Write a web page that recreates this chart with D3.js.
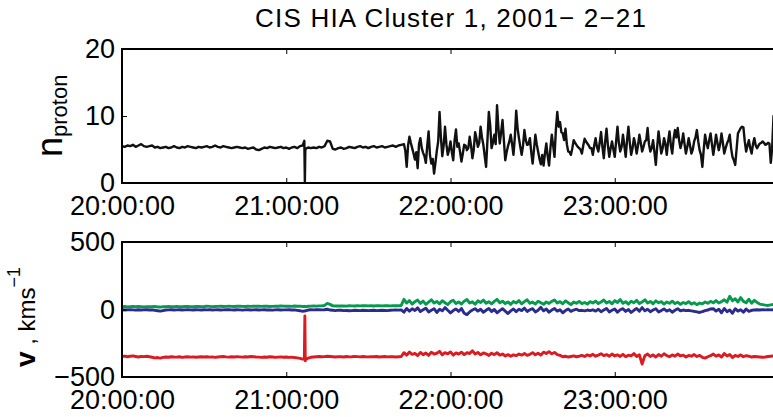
<!DOCTYPE html>
<html><head><meta charset="utf-8">
<script src="https://cdn.jsdelivr.net/npm/d3@7"></script>
<style>body{margin:0;background:#fff} svg{display:block}</style>
</head><body><svg id="c" width="773" height="417"></svg>
<script>
const titleText = "CIS HIA Cluster 1, 2001\u2212 2\u221221";
const xTickMinutes = [0, 60, 120, 180];
const xTickLabels = ["20:00:00", "21:00:00", "22:00:00", "23:00:00"];
const nTicks = [0, 10, 20];
const vTicks = [-500, 0, 500];

// proton density, one value per minute from 20:00
const density = [
5.5,5.4,5.6,5.5,5.7,5.4,5.6,5.8,5.5,5.4,
5.5,5.6,5.3,5.4,5.2,5.3,5.4,5.2,5.3,5.5,
5.3,5.2,5.4,5.3,5.5,5.4,5.3,5.2,5.4,5.3,
5.4,5.5,5.3,5.4,5.6,5.4,5.3,5.5,5.4,5.3,
5.2,5.3,5.4,5.3,5.2,5.3,5.1,5.2,5.3,5.0,
4.9,5.1,5.3,5.2,5.4,5.3,5.2,5.3,5.4,5.2,
5.3,5.1,5.3,5.4,5.2,5.5,5.6,5.1,5.3,5.2,
5.3,5.2,5.4,5.3,5.5,6.3,6.2,5.1,5.0,5.2,
5.3,5.1,5.2,5.4,5.3,5.2,5.4,5.5,5.3,5.4,
5.2,5.4,5.5,5.3,5.4,5.5,5.3,5.4,5.5,5.6,
5.4,5.6,5.7,5.8,2.4,6.9,5.2,3.5,2.2,6.7,
4.5,3.0,7.7,2.9,1.4,4.8,10.6,4.0,8.4,4.2,
6.2,3.4,8.0,5.9,3.2,5.7,4.9,6.9,3.7,7.6,
5.4,8.4,5.7,2.4,10.6,5.2,7.2,11.6,5.9,9.4,
3.4,5.5,7.2,4.2,10.8,6.7,4.2,7.9,5.7,6.7,
2.9,7.2,4.7,2.8,2.6,5.9,2.6,7.2,3.9,10.6,
9.1,7.4,8.1,4.7,4.2,6.4,5.7,5.2,4.4,6.6,
5.9,5.2,4.2,6.7,4.7,7.6,3.7,8.1,3.9,6.2,
3.9,8.4,4.7,7.2,3.9,8.4,4.2,6.7,4.4,7.2,
4.7,6.2,8.2,4.7,6.4,2.7,7.7,4.4,6.7,4.2,
7.7,4.4,7.9,8.2,5.2,7.4,4.4,6.7,4.4,6.2,
7.9,4.9,2.4,7.2,5.2,7.4,4.2,7.2,4.9,7.4,
4.4,5.9,7.2,3.9,2.7,7.4,8.2,8.3,4.7,6.4,
4.4,6.7,5.2,5.9,6.2,5.7,6.0,3.0,10.0,6.0];

// extra density samples at half minutes, 21:43:30 .. 23:58:30
const densityHalfStart = 103.5;
const densityHalf = [
4.8,5.6,6.0,4.4,4.6,5.8,5.2,4.0,5.5,4.2,
3.6,3.0,6.2,6.8,5.6,5.8,5.0,4.6,6.4,5.4,
4.6,4.4,5.6,5.2,5.6,5.0,6.6,6.0,6.8,4.0,
6.4,8.6,6.0,5.8,8.2,7.6,6.4,4.6,6.2,5.8,
6.8,8.2,5.4,5.6,6.4,5.8,4.6,5.0,5.8,3.6,
4.2,4.4,4.0,5.2,5.6,8.0,8.4,7.6,6.4,5.8,
4.6,5.2,6.0,5.4,5.0,5.6,6.2,5.6,5.2,5.6,
5.4,6.0,5.4,6.2,5.6,5.2,5.0,6.2,6.0,5.4,
5.6,6.4,6.0,5.2,5.8,5.6,6.0,5.4,6.4,5.8,
5.2,4.6,5.4,6.0,5.2,5.8,6.2,5.6,6.6,6.8,
6.4,6.0,5.8,5.4,5.6,5.0,6.8,6.2,4.2,5.0,
6.0,6.4,5.8,5.6,6.0,5.8,6.0,5.2,6.4,5.2,
3.4,5.0,7.8,8.4,6.2,5.6,5.2,5.8,5.6,5.6,
6.0,6.0,5.8,5.9,5.2,8.0];

// velocity components (km/s), one value per minute
const vGreen = [
20,22,19,21,23,20,22,21,19,20,
21,20,22,19,18,20,21,22,20,21,
22,21,20,23,22,21,20,22,23,21,
22,24,23,21,22,23,24,22,23,24,
23,22,24,25,23,22,24,23,25,24,
24,23,25,24,22,23,25,24,26,25,
24,25,23,26,24,25,22,20,24,25,
26,25,27,28,30,45,38,27,26,27,
26,27,25,28,27,26,28,27,29,28,
27,28,26,29,28,27,29,28,27,28,
29,28,30,75,48,66,40,58,70,45,
62,38,55,72,48,60,42,65,50,36,
58,68,44,56,40,62,74,48,57,39,
64,52,70,46,58,42,60,75,50,62,
44,56,38,60,48,66,42,58,72,46,
55,40,62,50,38,56,45,60,70,48,
58,42,64,50,36,55,46,60,44,52,
40,58,48,62,44,56,70,48,60,42,
66,52,74,46,58,40,62,50,68,44,
56,72,48,60,42,64,50,58,40,56,
46,62,44,54,38,52,44,58,40,50,
36,48,42,56,46,60,50,66,48,58,
72,54,98,64,80,56,88,60,50,76,
46,68,52,40,36,32,30,34,38,42];

const vBlue = [
-2,-4,-3,-1,-3,-5,-2,-4,-3,-2,
-4,-3,-6,-9,-12,-8,-4,-3,-2,-4,
-3,-2,-4,-3,-1,-3,-4,-2,-3,-4,
-2,-3,-1,-4,-3,-2,-4,-3,-2,-1,
-3,-4,-2,-3,-5,-3,-2,-4,-3,-2,
-4,-3,-2,-4,-3,-5,-3,-2,-4,-3,
-3,-2,-4,-3,-6,-9,-14,-10,-4,-2,
-3,-2,-1,-3,-2,2,-4,-6,-8,-5,
-6,-8,-7,-9,-8,-6,-7,-8,-6,-7,
-8,-7,-6,-8,-7,-6,-7,-8,-6,-5,
-4,-5,-3,-20,8,-12,5,-8,12,-15,
-2,10,-18,-5,6,-22,2,-10,14,-6,
-25,-8,4,-14,8,-28,-38,-18,-4,6,
-12,2,-20,-6,8,-15,0,-24,-8,6,
-12,-30,-10,4,-16,2,-8,10,-14,-2,
6,-18,-6,16,-10,4,-20,-4,8,-12,
-2,-24,-8,4,-14,-4,2,-8,-6,-10,
-4,-8,-2,-12,2,-16,-4,8,-18,-6,
4,-20,-2,6,-14,0,-22,-6,8,-12,
14,-10,2,-16,-4,6,-18,-8,4,-12,
-2,-20,-6,6,-10,-4,-8,-6,-10,-14,
-18,-22,-16,-8,-4,4,6,-12,2,-24,
8,-16,-4,-28,6,-12,-2,-20,4,-14,
-6,-4,-2,-4,-1,-3,-2,-3,-2,-3];

const vRed = [
-348,-345,-350,-346,-344,-348,-352,-347,-349,-346,
-350,-354,-358,-356,-360,-355,-352,-354,-350,-352,
-353,-350,-355,-352,-350,-353,-351,-354,-352,-350,
-352,-350,-353,-351,-355,-352,-350,-348,-351,-353,
-350,-352,-349,-351,-353,-350,-352,-348,-350,-352,
-353,-355,-352,-354,-350,-352,-355,-353,-351,-354,
-352,-355,-353,-356,-358,-362,-368,-372,-360,-354,
-352,-350,-348,-350,-349,-346,-348,-350,-352,-349,
-350,-352,-348,-351,-350,-347,-349,-351,-348,-350,
-351,-349,-350,-348,-352,-350,-348,-351,-349,-350,
-352,-350,-348,-320,-338,-315,-332,-325,-342,-318,
-335,-322,-340,-316,-330,-324,-310,-335,-320,-328,
-314,-338,-322,-330,-316,-334,-320,-326,-305,-330,
-318,-336,-322,-328,-340,-324,-334,-320,-338,-330,
-344,-334,-346,-336,-342,-330,-338,-326,-340,-332,
-320,-336,-324,-338,-316,-326,-312,-328,-318,-334,
-340,-350,-346,-352,-348,-344,-350,-346,-340,-348,
-336,-344,-332,-346,-338,-328,-342,-334,-346,-330,
-344,-336,-348,-332,-350,-338,-344,-326,-348,-336,
-404,-342,-330,-348,-336,-352,-334,-346,-328,-342,
-350,-336,-346,-330,-344,-338,-352,-340,-346,-334,
-348,-340,-354,-360,-350,-342,-330,-346,-336,-352,
-326,-344,-334,-356,-340,-348,-336,-350,-342,-346,
-352,-348,-350,-352,-354,-352,-348,-346,-344,-346];

// short data dropout near 21:07
const gapTimes = [66.6, 66.8, 66.95];
const densityGap = [6.3, 0.0, 4.6];
const redGap = [-366, -48, -380];
const greenGap = [22, 24, 21];
const blueGap = [-10, -12, -11];

const colors = {red: "#dc1a22", green: "#079a4e", blue: "#2b2a8e"};

const svg = d3.select("#c");
const FONT = "'Liberation Sans', Arial, Helvetica, sans-serif";
const x = d3.scaleLinear().domain([0, 240]).range([122, 779]);

function series(vals, gT, gV, extraStart, extraVals) {
  const pts = vals.map((v, i) => [i, v]);
  gT.forEach((t, k) => pts.push([t, gV[k]]));
  if (extraVals) extraVals.forEach((v, k) => pts.push([extraStart + k, v]));
  pts.sort((a, b) => a[0] - b[0]);
  return pts;
}

const panels = [
  {top: 49, bottom: 183, domain: [0, 20], ticks: nTicks,
   lines: [{pts: series(density, gapTimes, densityGap, densityHalfStart, densityHalf), color: "#111", w: 2.4}]},
  {top: 242, bottom: 377, domain: [-500, 500], ticks: vTicks,
   lines: [
     {pts: series(vRed, gapTimes, redGap), color: colors.red, w: 2.9},
     {pts: series(vGreen, gapTimes, greenGap), color: colors.green, w: 2.9},
     {pts: series(vBlue, gapTimes, blueGap), color: colors.blue, w: 2.9}]}
];

svg.append("defs");
panels.forEach((p, pi) => {
  const y = d3.scaleLinear().domain(p.domain).range([p.bottom, p.top]);
  svg.select("defs").append("clipPath").attr("id", "clip" + pi)
    .append("rect").attr("x", 122).attr("y", p.top).attr("width", 657).attr("height", p.bottom - p.top);
  const g = svg.append("g").attr("clip-path", `url(#clip${pi})`);
  const line = d3.line().x(d => x(d[0])).y(d => y(d[1]));
  p.lines.forEach(l => {
    g.append("path").attr("d", line(l.pts)).attr("fill", "none")
      .attr("stroke", l.color).attr("stroke-width", l.w).attr("stroke-linejoin", "round");
  });

  const xb = svg.append("g").attr("transform", `translate(0,${p.bottom})`)
    .call(d3.axisBottom(x).tickValues(xTickMinutes).tickFormat((d, i) => xTickLabels[i])
      .tickSizeInner(-5).tickSizeOuter(0).tickPadding(13));
  const xt = svg.append("g").attr("transform", `translate(0,${p.top})`)
    .call(d3.axisTop(x).tickValues(xTickMinutes).tickFormat("").tickSizeInner(-5).tickSizeOuter(0));
  const yl = svg.append("g").attr("transform", `translate(122,0)`)
    .call(d3.axisLeft(y).tickValues(p.ticks).tickSizeInner(-5).tickSizeOuter(0).tickPadding(7));
  [xb, xt, yl].forEach(a => {
    a.select(".domain").remove();
    a.attr("font-family", FONT).attr("font-size", 27);
    a.selectAll("line").attr("stroke", "#000").attr("stroke-width", 1);
    a.selectAll("text").attr("fill", "#000");
  });
  svg.append("path")
    .attr("d", `M779,${p.top}H122V${p.bottom}H779`)
    .attr("fill", "none").attr("stroke", "#000").attr("stroke-width", 2);
});

svg.append("text").attr("x", 450.5).attr("y", 27).attr("text-anchor", "middle")
  .attr("font-family", FONT).attr("font-size", 26)
  .attr("textLength", 391).attr("lengthAdjust", "spacing").text(titleText);

const l1 = svg.append("text").attr("transform", "translate(62,157) rotate(-90)")
  .attr("font-family", FONT).attr("fill", "#000");
l1.append("tspan").attr("font-size", 36).text("n");
l1.append("tspan").attr("font-size", 22).attr("dy", 5).text("proton");

const l2 = svg.append("text").attr("transform", "translate(35,367) rotate(-90)")
  .attr("font-family", FONT).attr("fill", "#000");
l2.append("tspan").attr("font-size", 28).attr("font-weight", "bold").text("v");
l2.append("tspan").attr("font-size", 24).text(" , kms");
l2.append("tspan").attr("font-size", 18).attr("dy", -15).text("\u22121");
</script></body></html>
